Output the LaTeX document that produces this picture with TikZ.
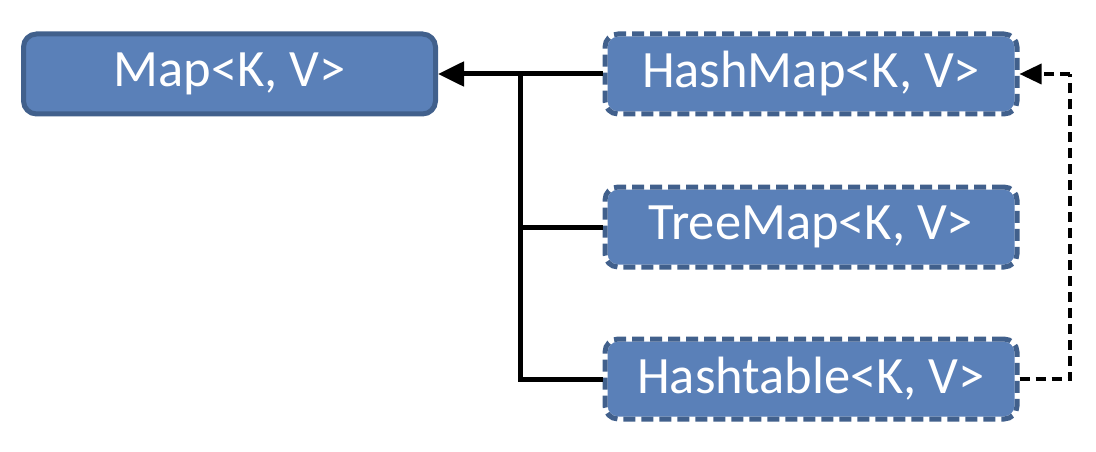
\documentclass[tikz,border=0pt]{standalone}
\usepackage{fontspec}
\setmainfont{Carlito}
\usetikzlibrary{arrows.meta}
\definecolor{boxfill}{HTML}{5A80B8}
\definecolor{boxline}{HTML}{41608C}
\begin{document}
\begin{tikzpicture}[x=1pt,y=-1pt,
  cls/.style={rectangle, rounded corners=13pt, fill=boxfill, draw=boxline, line width=5pt,
    minimum width=412pt, minimum height=80pt, text=white, font=\fontsize{52.5}{58}\selectfont, inner sep=0pt},
  dcls/.style={cls, draw=white, postaction={draw=boxline, dash pattern=on 12pt off 6pt, line width=5pt}},
  conn/.style={line width=5pt, black},
  dconn/.style={line width=3.5pt, black, dash pattern=on 10pt off 6pt}
]
\useasboundingbox (0,0) rectangle (1096,452);
\node[cls] (map) at (229.5,74) {Map<K, V>};
\node[dcls] (hashmap) at (811,74) {HashMap<K, V>};
\node[dcls] (treemap) at (811,227) {TreeMap<K, V>};
\node[dcls] (hashtable) at (811,379) {Hashtable<K, V>};
\coordinate (j) at (520,74);
\coordinate (r) at (1070,74);
\draw[conn,-{Triangle[length=26pt,width=24pt]}] (hashmap.west) -- (map.east);
\draw[conn] (treemap.west) -| (j);
\draw[conn] (hashtable.west) -| (j);
\draw[dconn] (hashtable.east) -| (r);
\draw[dconn,-{Triangle[length=22pt,width=20pt]}] (r) -- (hashmap.east);
\end{tikzpicture}
\end{document}
